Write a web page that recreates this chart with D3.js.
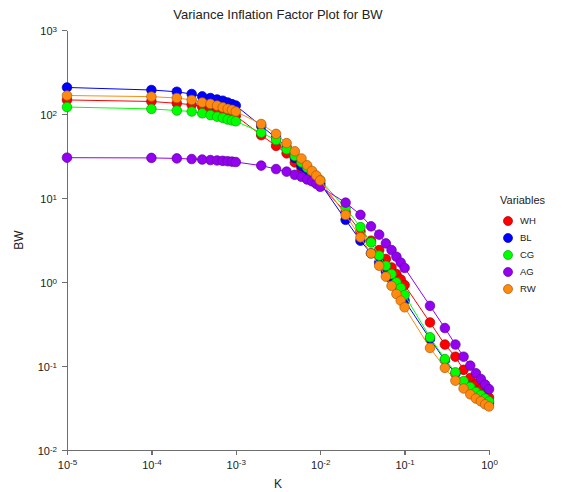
<!DOCTYPE html>
<html lang="en">
<head>
<meta charset="utf-8">
<title>Variance Inflation Factor Plot for BW</title>
<script src="https://cdn.jsdelivr.net/npm/d3@7"></script>
<style>
  body { margin: 0; background: #fff; }
  svg text { font-family: "Liberation Sans", Arial, sans-serif; fill: #222; }
  .axis path, .axis line { stroke: #6e6e6e; stroke-width: 1.5; shape-rendering: crispEdges; }
  .axis text { font-size: 11px; }
</style>
</head>
<body>
<script>
// ridge parameter K
var kValues = [1e-5,
  1e-4, 2e-4, 3e-4, 4e-4, 5e-4, 6e-4, 7e-4, 8e-4, 9e-4,
  1e-3, 2e-3, 3e-3, 4e-3, 5e-3, 6e-3, 7e-3, 8e-3, 9e-3,
  1e-2, 2e-2, 3e-2, 4e-2, 5e-2, 6e-2, 7e-2, 8e-2, 9e-2,
  0.1, 0.2, 0.3, 0.4, 0.5, 0.6, 0.7, 0.8, 0.9, 1.0];

// VIF per variable
var WH = [147,
  141, 134, 129, 122, 116, 110, 106, 102, 98,
  95, 56, 41.7, 34, 26.5, 22.5, 19.5, 17.3, 15.6,
  14.3, 6.8, 4.0, 3.1, 2.4, 1.88, 1.49, 1.24, 1.07,
  0.92, 0.33, 0.18, 0.129, 0.09, 0.072, 0.061, 0.053, 0.047, 0.042];
var BL = [207,
  193, 184, 173, 162, 155, 149, 144, 137, 131,
  126, 72, 52, 40, 30, 24, 20.5, 18, 16.5,
  15, 5.5, 3.1, 2.2, 1.7, 1.33, 1.08, 0.88, 0.73,
  0.60, 0.21, 0.117, 0.081, 0.064, 0.054, 0.047, 0.043, 0.039, 0.036];
var CG = [121,
  115, 110, 107, 102, 97, 93, 90, 86, 84,
  82, 60, 49, 38, 31.7, 26.5, 23, 20, 18,
  16.3, 7.6, 4.5, 2.95, 2.06, 1.56, 1.24, 0.99, 0.85,
  0.70, 0.22, 0.121, 0.084, 0.066, 0.056, 0.049, 0.045, 0.041, 0.038];
var AG = [30.2,
  30, 29.6, 29.1, 28.7, 28.3, 28, 27.7, 27.4, 27.1,
  26.8, 24.3, 22.1, 20.6, 18.9, 17.9, 16.6, 15.8, 14.7,
  13.6, 8.8, 6.3, 4.6, 3.66, 2.88, 2.40, 2.0, 1.70,
  1.47, 0.52, 0.283, 0.18, 0.129, 0.101, 0.082, 0.070, 0.060, 0.053];
var RW = [166,
  161, 155, 147, 137, 132, 126, 120, 115, 112,
  107, 76, 58, 45, 36, 29.5, 24.5, 21, 18.5,
  16.2, 6.3, 3.4, 2.19, 1.56, 1.16, 0.90, 0.72, 0.60,
  0.50, 0.164, 0.095, 0.067, 0.054, 0.046, 0.041, 0.038, 0.035, 0.033];

var seriesNames = ["WH", "BL", "CG", "AG", "RW"];
var seriesValues = [WH, BL, CG, AG, RW];
var seriesColors = ["#ff0000", "#0000ff", "#00ff00", "#9400f0", "#ff8a10"];

var xTicks = [1e-5, 1e-4, 1e-3, 1e-2, 1e-1, 1];
var xExps = ["-5", "-4", "-3", "-2", "-1", "0"];
var yTicks = [1e-2, 1e-1, 1, 1e1, 1e2, 1e3];
var yExps = ["-2", "-1", "0", "1", "2", "3"];

var w = 563, h = 492;
var x0 = 67, x1 = 489, y0 = 450, y1 = 30;

var svg = d3.select("body").append("svg")
    .attr("width", w)
    .attr("height", h);

var xScale = d3.scaleLog().domain([1e-5, 1]).range([x0, x1]);
var yScale = d3.scaleLog().domain([1e-2, 1e3]).range([y0, y1]);

// superscript labels: 10^n
function powLabel(sel, exps, ticks) {
  sel.selectAll(".tick text").each(function(d) {
    var t = d3.select(this).text(null);
    var i = ticks.indexOf(d);
    t.append("tspan").text("10");
    t.append("tspan").attr("dy", "-0.45em").attr("font-size", "8px").text(exps[i]);
  });
}

var xAxis = d3.axisBottom(xScale).tickValues(xTicks).tickSize(5).tickSizeOuter(0).tickPadding(6);
var gx = svg.append("g")
  .attr("class", "axis")
  .attr("transform", "translate(0," + y0 + ")")
  .call(xAxis);
powLabel(gx, xExps, xTicks);

var yAxis = d3.axisLeft(yScale).tickValues(yTicks).tickSize(5).tickSizeOuter(0).tickPadding(5);
var gy = svg.append("g")
  .attr("class", "axis")
  .attr("transform", "translate(" + x0 + ",0)")
  .call(yAxis);
powLabel(gy, yExps, yTicks);
gy.selectAll(".tick text").attr("dy", "0.45em");

// series: line then markers
var line = d3.line()
  .x(function(d) { return xScale(d[0]); })
  .y(function(d) { return yScale(d[1]); });

seriesValues.forEach(function(vals, s) {
  var pts = kValues.map(function(k, i) { return [k, vals[i]]; });
  var g = svg.append("g");
  g.append("path")
    .datum(pts)
    .attr("d", line)
    .attr("fill", "none")
    .attr("stroke", seriesColors[s])
    .attr("stroke-width", 1);
  g.selectAll("circle")
    .data(pts)
    .enter()
    .append("circle")
    .attr("cx", function(d) { return xScale(d[0]); })
    .attr("cy", function(d) { return yScale(d[1]); })
    .attr("r", 4.8)
    .attr("fill", seriesColors[s])
    .attr("stroke", d3.color(seriesColors[s]).darker(1.2))
    .attr("stroke-width", 0.7);
});

// titles
svg.append("text")
  .attr("x", 278).attr("y", 19)
  .attr("text-anchor", "middle")
  .attr("font-size", "13px")
  .text("Variance Inflation Factor Plot for BW");

svg.append("text")
  .attr("x", 278).attr("y", 488)
  .attr("text-anchor", "middle")
  .attr("font-size", "12px")
  .text("K");

svg.append("text")
  .attr("transform", "translate(23,240) rotate(-90)")
  .attr("text-anchor", "middle")
  .attr("font-size", "12px")
  .text("BW");

// legend
var legend = svg.append("g").attr("transform", "translate(500,0)");
legend.append("text")
  .attr("x", 0).attr("y", 204)
  .attr("font-size", "11px")
  .text("Variables");
var items = legend.selectAll("g.item")
  .data(seriesNames)
  .enter()
  .append("g")
  .attr("class", "item")
  .attr("transform", function(d, i) { return "translate(0," + (221 + i * 17) + ")"; });
items.append("circle")
  .attr("cx", 8).attr("cy", 0).attr("r", 4.5)
  .attr("fill", function(d, i) { return seriesColors[i]; })
  .attr("stroke", function(d, i) { return d3.color(seriesColors[i]).darker(1.2); })
  .attr("stroke-width", 0.7);
items.append("text")
  .attr("x", 20).attr("y", 0).attr("dy", "0.35em")
  .attr("font-size", "9.5px")
  .text(function(d) { return d; });
</script>
</body>
</html>
